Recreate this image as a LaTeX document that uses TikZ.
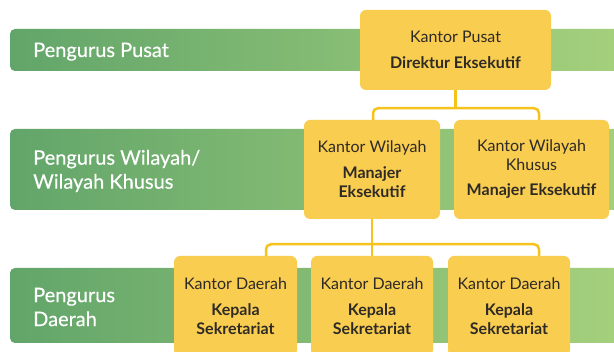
\documentclass[tikz,border=0pt]{standalone}
\usepackage{fontspec}
\setmainfont{Lato}
\newfontfamily\levelfont[FakeBold=0.4]{Lato}
\usetikzlibrary{positioning,calc}
\definecolor{barDark}{HTML}{62A56A}
\definecolor{barLight}{HTML}{A6D17D}
\definecolor{officeFill}{HTML}{F9CD50}
\definecolor{linkCol}{HTML}{F6C21C}
\definecolor{txtDark}{HTML}{2E2A25}

\begin{document}
\begin{tikzpicture}[x=1pt,y=-1pt,
  bar/.style={left color=barDark,right color=barLight,rounded corners=5pt},
  lbl/.style={align=left,text=white,inner sep=0pt,font=\levelfont\fontsize{20}{24}\selectfont},
  office/.style={fill=officeFill,rounded corners=6pt,inner sep=0pt,align=center,text=txtDark,
    font=\fontsize{16}{19}\selectfont},
  link/.style={draw=linkCol,line width=2.5pt,rounded corners=5pt}]
  \useasboundingbox (0,0) rectangle (614,352);
  \fill[white] (0,0) rectangle (614,352);
  \begin{scope}
    \clip (0,0) rectangle (614,352);
    % level bars
    \shade[bar] (10,29) rectangle (630,71);
    \shade[bar] (10,129) rectangle (630,210);
    \shade[bar] (10,268) rectangle (630,343);
    \node[lbl,anchor=base west] (lvlPusat) at (33,57) {Pengurus Pusat};
    \node[lbl,anchor=west] (lvlWilayah) at (33,171) {Pengurus Wilayah/\\Wilayah Khusus};
    \node[lbl,anchor=west] (lvlDaerah) at (33,307) {Pengurus\\Daerah};
    % offices
    \node[office,minimum width=191pt,minimum height=80pt] (kp) at (455.5,50)
      {Kantor Pusat\\[7pt]\bfseries Direktur Eksekutif};
    \node[office,minimum width=136pt,minimum height=99pt] (kw) at (372,169.5)
      {Kantor Wilayah\\[7pt]\bfseries Manajer\\\bfseries Eksekutif};
    \node[office,minimum width=155pt,minimum height=99pt] (kwk) at (531.5,169.5)
      {Kantor Wilayah\\Khusus\\[6pt]\bfseries Manajer Eksekutif};
    \node[office,minimum width=123pt,minimum height=100pt] (d1) at (235.5,306)
      {Kantor Daerah\\[7pt]\bfseries Kepala\\\bfseries Sekretariat};
    \node[office,minimum width=122pt,minimum height=100pt] (d2) at (372,306)
      {Kantor Daerah\\[7pt]\bfseries Kepala\\\bfseries Sekretariat};
    \node[office,minimum width=122pt,minimum height=100pt] (d3) at (509,306)
      {Kantor Daerah\\[7pt]\bfseries Kepala\\\bfseries Sekretariat};
    % connectors
    \coordinate (hubA) at ($(kp.south)+(0,18)$);
    \coordinate (hubB) at ($(kw.south)+(0,25)$);
    \draw[link] (kp.south) -- (hubA);
    \draw[link] ([xshift=1pt]kw.north) |- (hubA) -| ([xshift=7.5pt]kwk.north);
    \draw[link] (kw.south) -- (d2.north);
    \draw[link] ([xshift=30.5pt]d1.north) |- (hubB) -| ([xshift=30pt]d3.north);
  \end{scope}
\end{tikzpicture}
\end{document}
